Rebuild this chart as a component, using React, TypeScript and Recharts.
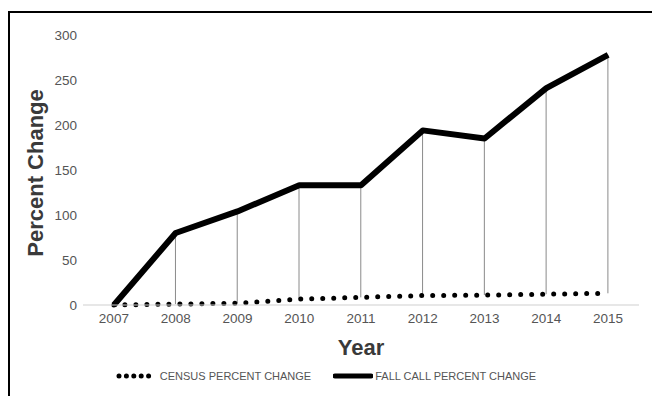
import React from 'react';
import { ComposedChart, Line, Bar, XAxis, YAxis, Legend } from 'recharts';

const years = ['2007', '2008', '2009', '2010', '2011', '2012', '2013', '2014', '2015'];
const fallCallChange = [0, 80, 104, 133, 133, 194, 185, 241, 278];
const censusChange = [0, 1, 2, 6.5, 8.5, 10.5, 11, 12, 13];
const yTicks = [0, 50, 100, 150, 200, 250, 300];

const data = years.map((year, i) => ({
  year,
  fall: fallCallChange[i],
  census: censusChange[i],
  drop: [censusChange[i], fallCallChange[i]],
}));

const FONT = '"Liberation Sans", Arial, sans-serif';

// thin gray line from the fall call point down to the census point
const DropLine = (props: any) => {
  const { x, y, width, height } = props;
  if (!height) return null;
  const cx = x + width / 2;
  const top = Math.min(y, y + height);
  const bottom = Math.max(y, y + height);
  return <line x1={cx} x2={cx} y1={top} y2={bottom} stroke="#8a8a8a" strokeWidth={1} />;
};

const LegendContent = () => (
  <div
    style={{
      display: 'flex',
      justifyContent: 'center',
      alignItems: 'center',
      fontFamily: FONT,
      fontSize: 11,
      color: '#555',
    }}
  >
    <svg width={42} height={8} style={{ marginRight: 2 }}>
      <line x1={3} x2={40} y1={4} y2={4} stroke="#000" strokeWidth={5} strokeDasharray="0 7.4" strokeLinecap="round" />
    </svg>
    <span>CENSUS PERCENT CHANGE</span>
    <svg width={40} height={8} style={{ marginLeft: 22, marginRight: 2 }}>
      <line x1={2} x2={38} y1={4} y2={4} stroke="#000" strokeWidth={5} strokeLinecap="round" />
    </svg>
    <span>FALL CALL PERCENT CHANGE</span>
  </div>
);

export default function App() {
  return (
    <div style={{ position: 'absolute', left: 0, top: 0, width: 652, height: 396, overflow: 'hidden', background: '#fff' }}>
      <div
        style={{
          position: 'absolute',
          left: 8,
          top: 11,
          width: 700,
          height: 420,
          borderTop: '2px solid #000',
          borderLeft: '2px solid #000',
        }}
      />
      <div style={{ position: 'absolute', left: 0, top: 0 }}>
        <ComposedChart width={652} height={396} data={data} margin={{ top: 35, right: 13, left: 0, bottom: 0 }}>
          <XAxis
            dataKey="year"
            height={91}
            tickLine={false}
            axisLine={{ stroke: '#cfcfcf' }}
            tick={{ fill: '#555', fontSize: 13.5, fontFamily: FONT }}
            label={(p: any) => {
              const vb = p.viewBox;
              return (
                <text
                  x={vb.x + vb.width / 2}
                  y={vb.y + 50}
                  textAnchor="middle"
                  fontFamily={FONT}
                  fontWeight="bold"
                  fontSize={22}
                  fill="#3a3a3a"
                >
                  Year
                </text>
              );
            }}
          />
          <YAxis
            width={83}
            domain={[0, 300]}
            ticks={yTicks}
            tickLine={false}
            axisLine={false}
            tickMargin={0}
            tick={{ fill: '#555', fontSize: 13.5, fontFamily: FONT }}
            label={() => (
              <text
                x={43}
                y={173}
                transform="rotate(-90 43 173)"
                textAnchor="middle"
                fontFamily={FONT}
                fontWeight="bold"
                fontSize={22}
                fill="#3a3a3a"
              >
                Percent Change
              </text>
            )}
          />
          <Legend verticalAlign="middle" align="center" wrapperStyle={{ top: 370, left: 0, width: 652 }} content={<LegendContent />} />
          <Bar dataKey="drop" shape={<DropLine />} isAnimationActive={false} />
          <Line
            dataKey="census"
            stroke="#000"
            strokeWidth={5}
            strokeDasharray="0 11"
            strokeLinecap="round"
            dot={false}
            activeDot={false}
            isAnimationActive={false}
          />
          <Line
            dataKey="fall"
            stroke="#000"
            strokeWidth={6}
            strokeLinejoin="round"
            dot={false}
            activeDot={false}
            isAnimationActive={false}
          />
        </ComposedChart>
      </div>
    </div>
  );
}
